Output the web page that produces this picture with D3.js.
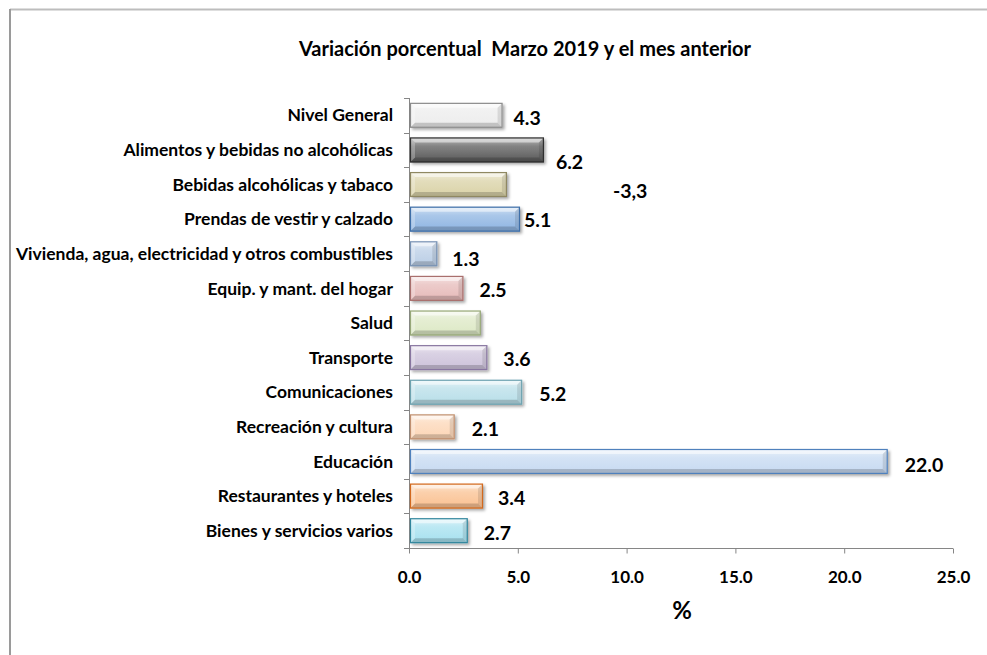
<!DOCTYPE html>
<html>
<head>
<meta charset="utf-8">
<script src="https://cdn.jsdelivr.net/npm/d3@7"></script>
<style>
  body { margin: 0; background: #fff; }
  text { font-family: Lato, "Open Sans", sans-serif; font-weight: bold; fill: #000; }
</style>
</head>
<body>
<div id="chart"></div>
<script>
// Data
const categories = [
  "Nivel General",
  "Alimentos y bebidas no alcohólicas",
  "Bebidas alcohólicas y tabaco",
  "Prendas de vestir y calzado",
  "Vivienda, agua, electricidad y otros combustibles",
  "Equip. y mant. del hogar",
  "Salud",
  "Transporte",
  "Comunicaciones",
  "Recreación y cultura",
  "Educación",
  "Restaurantes y hoteles",
  "Bienes y servicios varios"
];
const values = [4.3, 6.2, 4.5, 5.1, 1.3, 2.5, 3.3, 3.6, 5.2, 2.1, 22.0, 3.4, 2.7];
const valueLabels = ["4.3", "6.2", "-3,3", "5.1", "1.3", "2.5", "", "3.6", "5.2", "2.1", "22.0", "3.4", "2.7"];
const xTicks = [0, 5, 10, 15, 20, 25];

// bar colours: face, border
const barColors = [
  ["#ececec", "#8c8c8c"],
  ["#595959", "#2f2f2f"],
  ["#d9d2a6", "#8f8862"],
  ["#8db4e2", "#3f6fa8"],
  ["#b9cde5", "#7892b4"],
  ["#e6b9b8", "#a96f6d"],
  ["#dce8c4", "#97a878"],
  ["#ccc1da", "#8876a0"],
  ["#b7dee8", "#6ea3b0"],
  ["#fcd5b5", "#c09070"],
  ["#c6d9f1", "#4f81bd"],
  ["#fac090", "#d2691e"],
  ["#a5e0ef", "#31859c"]
];

// hand-placed data labels (offsets from bar end / bar centre)
const labelShift = [
  [11, 3], [12, 12], [106, 7], [4, 1], [15, 5], [16, 2], [16, 2],
  [16, 2], [17, 2], [17, 2], [17, 4], [15, 2], [16, 2]
];

const W = 987, H = 655;
const svg = d3.select("#chart").append("svg")
  .attr("width", W).attr("height", H);

// outer frame (top + left visible)
svg.append("line").attr("x1", 10).attr("x2", W).attr("y1", 9.5).attr("y2", 9.5)
  .attr("stroke", "#bdbdbd").attr("stroke-width", 2);
svg.append("line").attr("x1", 10).attr("x2", 10).attr("y1", 9).attr("y2", H)
  .attr("stroke", "#9a9a9a").attr("stroke-width", 2);

svg.append("text")
  .attr("x", 525).attr("y", 56)
  .attr("text-anchor", "middle")
  .attr("font-size", 20)
  .style("white-space", "pre")
  .text("Variación porcentual  Marzo 2019 y el mes anterior");

const x = d3.scaleLinear().domain([0, 25]).range([409, 953]);
const y = d3.scaleBand().domain(categories).range([98, 548])
  .paddingInner(0.28).paddingOuter(0.14);

const defs = svg.append("defs");
const shadow = defs.append("filter").attr("id", "shadow")
  .attr("x", "-10%").attr("y", "-30%").attr("width", "130%").attr("height", "180%");
shadow.append("feDropShadow").attr("dx", 2).attr("dy", 2).attr("stdDeviation", 1.5)
  .attr("flood-color", "#000").attr("flood-opacity", 0.35);

barColors.forEach((c, i) => {
  const g = defs.append("linearGradient").attr("id", "grad" + i)
    .attr("x1", 0).attr("y1", 0).attr("x2", 0).attr("y2", 1);
  g.append("stop").attr("offset", "0%").attr("stop-color", d3.interpolateRgb(c[0], "#fff")(0.6));
  g.append("stop").attr("offset", "35%").attr("stop-color", d3.interpolateRgb(c[0], "#fff")(0.25));
  g.append("stop").attr("offset", "100%").attr("stop-color", c[0]);
});

// axes
const step = y.step();
const gridBounds = categories.map(c => y(c) - step * y.paddingInner() / 2).concat([548]);
svg.append("line").attr("x1", 409.5).attr("x2", 409.5).attr("y1", 98).attr("y2", 548)
  .attr("stroke", "#868686");
svg.selectAll(".ytick").data(gridBounds).enter().append("line")
  .attr("x1", 404).attr("x2", 409.5)
  .attr("y1", d => Math.round(d) + 0.5).attr("y2", d => Math.round(d) + 0.5)
  .attr("stroke", "#868686");

const xAxis = svg.append("g")
  .attr("transform", "translate(0,548.5)")
  .call(d3.axisBottom(x).tickValues(xTicks).tickFormat(d3.format(".1f")).tickSize(5).tickPadding(17));
xAxis.select(".domain").attr("stroke", "#868686").attr("d", "M404,0H953");
xAxis.selectAll(".tick line").attr("stroke", "#868686");
xAxis.selectAll(".tick text")
  .attr("font-size", 17).attr("font-family", "Lato, sans-serif").attr("font-weight", "bold").attr("fill", "#000");

svg.append("text").attr("x", 682).attr("y", 619)
  .attr("text-anchor", "middle").attr("font-size", 24).text("%");

// category labels
svg.selectAll(".cat").data(categories).enter().append("text")
  .attr("x", 393)
  .attr("y", d => y(d) + y.bandwidth() / 2)
  .attr("dy", "0.35em")
  .attr("text-anchor", "end")
  .attr("font-size", 17.5)
  .text(d => d);

// bevelled bars
const bw = y.bandwidth();
const bev = 5;
categories.forEach((cat, i) => {
  const x0 = x(0) + 1, x1 = x(values[i]), y0 = y(cat), y1 = y0 + bw;
  const g = svg.append("g");
  g.append("rect")
    .attr("x", x0).attr("y", y0).attr("width", x1 - x0).attr("height", bw)
    .attr("fill", `url(#grad${i})`).attr("filter", "url(#shadow)");
  // bevel faces
  const b = Math.min(bev, (x1 - x0) / 2);
  g.append("polygon")
    .attr("points", [[x0, y0], [x1, y0], [x1 - b, y0 + b], [x0 + b, y0 + b]].join(" "))
    .attr("fill", "#fff").attr("opacity", 0.5);
  g.append("polygon")
    .attr("points", [[x0, y1], [x1, y1], [x1 - b, y1 - b], [x0 + b, y1 - b]].join(" "))
    .attr("fill", "#000").attr("opacity", 0.18);
  g.append("polygon")
    .attr("points", [[x1, y0], [x1, y1], [x1 - b, y1 - b], [x1 - b, y0 + b]].join(" "))
    .attr("fill", "#000").attr("opacity", 0.1);
  g.append("polygon")
    .attr("points", [[x0, y0], [x0, y1], [x0 + b, y1 - b], [x0 + b, y0 + b]].join(" "))
    .attr("fill", "#fff").attr("opacity", 0.25);
  g.append("rect")
    .attr("x", x0 + 0.5).attr("y", y0 + 0.5).attr("width", x1 - x0 - 1).attr("height", bw - 1)
    .attr("fill", "none").attr("stroke", barColors[i][1]).attr("stroke-width", 1.2);
});

// data labels
svg.selectAll(".val").data(values).enter().append("text")
  .attr("x", (d, i) => x(d) + labelShift[i][0])
  .attr("y", (d, i) => y(categories[i]) + bw / 2 + labelShift[i][1])
  .attr("dy", "0.35em")
  .attr("font-size", 19.5)
  .text((d, i) => valueLabels[i]);
</script>
</body>
</html>
